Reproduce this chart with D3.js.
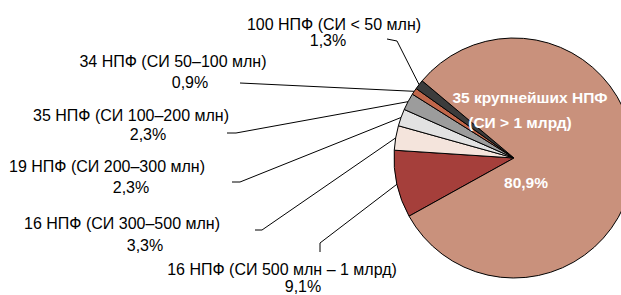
<!DOCTYPE html>
<html><head><meta charset="utf-8">
<script src="https://cdn.jsdelivr.net/npm/d3@7"></script>
<style>html,body{margin:0;padding:0;background:#fff;overflow:hidden}</style>
</head><body>
<svg id="c" width="621" height="295"></svg>
<script>
const categories = ["16 НПФ (СИ 500 млн – 1 млрд)", "16 НПФ (СИ 300–500 млн)", "19 НПФ (СИ 200–300 млн)", "35 НПФ (СИ 100–200 млн)", "34 НПФ (СИ 50–100 млн)", "100 НПФ (СИ < 50 млн)", "35 крупнейших НПФ|(СИ > 1 млрд)"];
const values = [9.1, 3.3, 2.3, 2.3, 0.9, 1.3, 80.9];
const valueLabels = ["9,1%", "3,3%", "2,3%", "2,3%", "0,9%", "1,3%", "80,9%"];
const colors = ["#a53f3b", "#f4e4dc", "#e2e2e2", "#9c9c9c", "#c1674b", "#3c3c3c", "#c9917c"];

const svg = d3.select("#c");
const cx = 514, cy = 158, R = 120;
const start = 241 * Math.PI / 180;
const pie = d3.pie().sort(null).value(d => d).startAngle(start).endAngle(start + 2 * Math.PI);
const arcs = pie(values);
const arc = d3.arc().innerRadius(0).outerRadius(R);
const g = svg.append("g").attr("transform", `translate(${cx},${cy})`);
g.selectAll("path").data(arcs).join("path")
  .attr("d", arc).attr("fill", (d, i) => colors[i])
  .attr("stroke", "#000").attr("stroke-width", 1).attr("stroke-linejoin", "round");

const font = "'Liberation Sans', Arial, sans-serif";
const layout = [
  {t1: [282, 275], t2: [303, 292], path: [[320, 252], [320, 243]]},
  {t1: [122, 229], t2: [145, 251], path: [[255, 230], [262, 230]]},
  {t1: [107, 172], t2: [131, 193], path: [[232, 182], [240, 182]]},
  {t1: [131, 121], t2: [148, 140], path: [[227, 133], [236, 133]]},
  {t1: [173, 67], t2: [190, 88], path: [[240, 83]]},
  {t1: [334, 30], t2: [328, 46], path: [[387, 39], [397, 41]]}
];
const lineGen = d3.line();
layout.forEach((L, i) => {
  const a = arcs[i];
  const mid = (a.startAngle + a.endAngle) / 2;
  const ex = cx + Math.sin(mid) * R, ey = cy - Math.cos(mid) * R;
  svg.append("path").attr("d", lineGen([...L.path, [ex, ey]]))
    .attr("fill", "none").attr("stroke", "#000").attr("stroke-width", 1);
  svg.append("text").attr("x", L.t1[0]).attr("y", L.t1[1]).attr("text-anchor", "middle")
    .attr("font-family", font).attr("font-size", 16).attr("fill", "#000").text(categories[i]);
  svg.append("text").attr("x", L.t2[0]).attr("y", L.t2[1]).attr("text-anchor", "middle")
    .attr("font-family", font).attr("font-size", 16).attr("fill", "#000").text(valueLabels[i]);
});
const bigLines = categories[6].split("|");
const bf = 15.5;
svg.append("text").attr("x", 530).attr("y", 103).attr("text-anchor", "middle")
  .attr("font-family", font).attr("font-weight", "bold").attr("font-size", bf).attr("fill", "#fff").text(bigLines[0]);
svg.append("text").attr("x", 520).attr("y", 128).attr("text-anchor", "middle")
  .attr("font-family", font).attr("font-weight", "bold").attr("font-size", bf).attr("fill", "#fff").text(bigLines[1]);
svg.append("text").attr("x", 526).attr("y", 188).attr("text-anchor", "middle")
  .attr("font-family", font).attr("font-weight", "bold").attr("font-size", bf).attr("fill", "#fff").text(valueLabels[6]);
</script>
</body></html>
